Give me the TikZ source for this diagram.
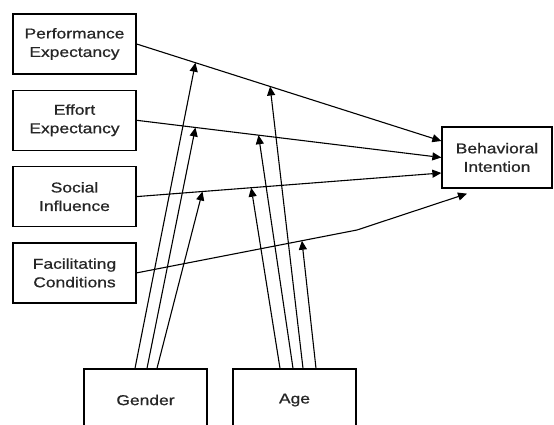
\documentclass[tikz,border=0pt]{standalone}
\usepackage{fontspec}
\setmainfont{Liberation Sans}[FakeStretch=1.22,FakeBold=0.8]
\usetikzlibrary{positioning,arrows.meta}

\begin{document}
\begin{tikzpicture}[
  x=1pt, y=1pt,
  node distance=15pt and 15pt,
  var/.style={draw, line width=1.3pt, align=center, text=black!85, font=\fontsize{14.3}{18.5}\selectfont, minimum width=123pt, minimum height=60pt, inner sep=0pt},
  flecha/.style={-{Triangle[length=9pt,width=8pt]}, line width=1.1pt}
]
\useasboundingbox (0,0) rectangle (554,425);
\clip (0,0) rectangle (554,425);

\node[var] (pe) at (74.5,381) {Performance\\Expectancy};
\node[var, below=of pe] (ee) {Effort\\Expectancy};
\node[var, below=of ee] (si) {Social\\Influence};
\node[var, below=of si] (fc) {Facilitating\\Conditions};
\node[var, minimum height=62pt] (gen) at (145.5,25) {Gender};
\node[var, minimum height=62pt] (age) at (294.5,25) {Age};
\node[var, minimum width=110pt, minimum height=61pt] (bi) at (497,267.5) {Behavioral\\Intention};

\coordinate (bi-a) at ([yshift=16.5pt]bi.west);
\coordinate (bi-c) at ([yshift=-15.5pt]bi.west);
\coordinate (bi-d) at ([xshift=-30pt,yshift=-5pt]bi.south);
\coordinate (fc-k) at (357,195);

\draw[flecha] (pe.east) -- coordinate[pos=0.193] (pe-g) coordinate[pos=0.438] (pe-a) (bi-a);
\draw[flecha] (ee.east) -- coordinate[pos=0.193] (ee-g) coordinate[pos=0.40] (ee-a) (bi.west);
\draw[flecha] (si.east) -- coordinate[pos=0.216] (si-g) coordinate[pos=0.376] (si-a) (bi-c);
\draw[flecha] (fc.east) -- coordinate[pos=0.75] (fc-a) (fc-k) -- (bi-d);

\draw[flecha] ([xshift=-10.5pt]gen.north) -- (pe-g);
\draw[flecha] ([xshift=1.5pt]gen.north) -- (ee-g);
\draw[flecha] ([xshift=11.5pt]gen.north) -- (si-g);

\draw[flecha] ([xshift=-14.5pt]age.north) -- (si-a);
\draw[flecha] ([xshift=-1.5pt]age.north) -- (ee-a);
\draw[flecha] ([xshift=8.5pt]age.north) -- (pe-a);
\draw[flecha] ([xshift=21.5pt]age.north) -- (fc-a);
\end{tikzpicture}
\end{document}
